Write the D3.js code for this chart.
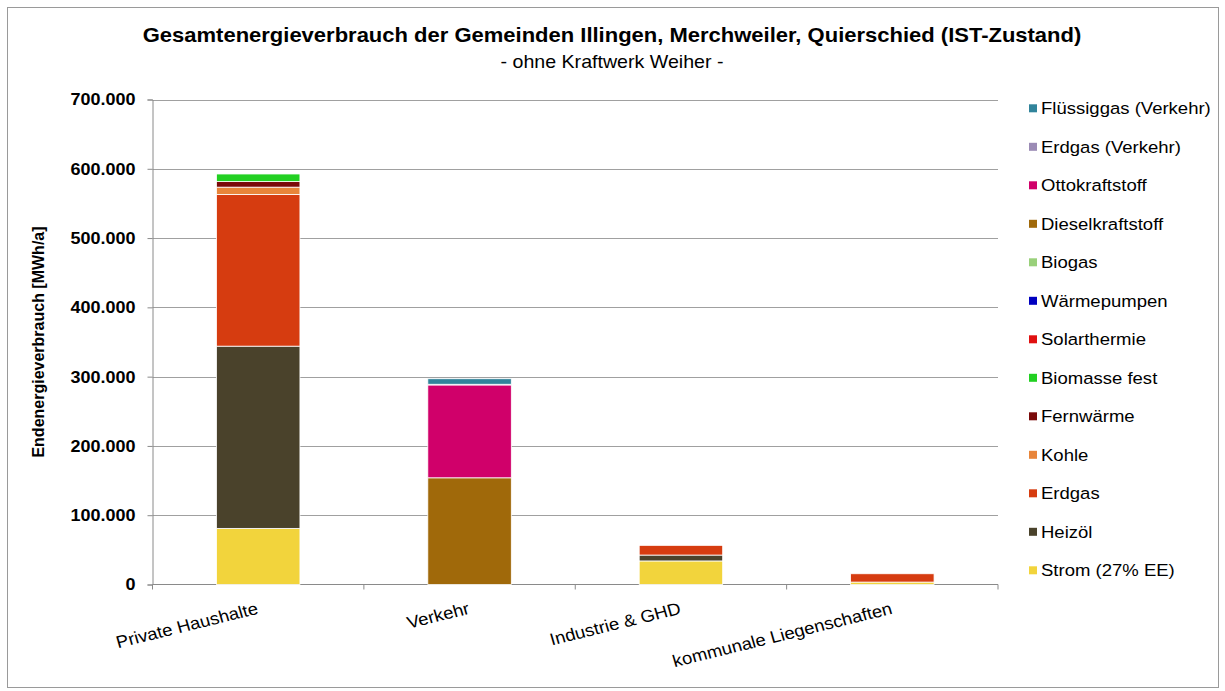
<!DOCTYPE html>
<html lang="de">
<head>
    <meta charset="UTF-8">
    <title>Gesamtenergieverbrauch</title>
    <script src="https://d3js.org/d3.v7.min.js"></script>
    <style>
        body { margin: 0; background: #fff; }
        text { font-family: Arial, "Liberation Sans", sans-serif; fill: #000; }
    </style>
</head>
<body>
<svg id="main" width="1225" height="691"></svg>
<script>
    // data (MWh/a)
    const categories = ['Private Haushalte', 'Verkehr', 'Industrie & GHD', 'kommunale Liegenschaften'];
    const seriesNames = ['Strom (27% EE)', 'Heizöl', 'Erdgas', 'Kohle', 'Fernwärme', 'Biomasse fest',
        'Solarthermie', 'Wärmepumpen', 'Biogas', 'Dieselkraftstoff', 'Ottokraftstoff',
        'Erdgas (Verkehr)', 'Flüssiggas (Verkehr)'];
    const strom        = [81000, 0, 34000, 3500];
    const heizoel      = [263000, 0, 8500, 0];
    const erdgas       = [219000, 0, 14000, 12000];
    const kohle        = [10500, 0, 0, 0];
    const fernwaerme   = [8000, 0, 0, 0];
    const biomasse     = [11000, 0, 0, 0];
    const solarthermie = [0, 0, 0, 0];
    const waermepumpen = [0, 0, 0, 0];
    const biogas       = [0, 0, 0, 0];
    const diesel       = [0, 154000, 0, 0];
    const otto         = [0, 134000, 0, 0];
    const erdgasVerk   = [0, 1000, 0, 0];
    const fluessiggas  = [0, 8000, 0, 0];
    const yTicks = [0, 100000, 200000, 300000, 400000, 500000, 600000, 700000];

    const seriesValues = [strom, heizoel, erdgas, kohle, fernwaerme, biomasse, solarthermie,
        waermepumpen, biogas, diesel, otto, erdgasVerk, fluessiggas];
    const colors = ['#f2d43c', '#4a422b', '#d63c10', '#e8853a', '#7a0a0a', '#22d022', '#e01010',
        '#0000c0', '#99d07a', '#a0690a', '#d0006a', '#9b8bb5', '#31849b'];

    let svg = d3.select('svg#main');
    // the original picture is a bit wider than tall, text looks stretched
    let sx = 1.09;

    // outer frame
    svg.append('rect')
        .attr('x', 7.5).attr('y', 7.5).attr('width', 1211).attr('height', 680)
        .attr('fill', 'none').attr('stroke', '#9a9a9a');

    let plot = {left: 152.5, right: 998, top: 99.5, bottom: 584.5};

    // table for d3.stack
    let table = categories.map(function (c, i) {
        let row = {cat: c};
        seriesNames.forEach(function (s, j) { row[s] = seriesValues[j][i]; });
        return row;
    });
    let stacked = d3.stack().keys(seriesNames)(table);

    let xScale = d3.scaleBand()
        .domain(categories)
        .range([plot.left, plot.right])
        .paddingInner(0.605)
        .paddingOuter(0.3025);
    let yScale = d3.scaleLinear()
        .domain([0, 700000])
        .range([plot.bottom, plot.top]);

    let de = d3.formatLocale({decimal: ',', thousands: '.', grouping: [3], currency: ['', '€']});
    let fmt = de.format(',d');

    // gridlines
    svg.append('g')
        .selectAll('line')
        .data(yTicks.slice(1))
        .enter()
        .append('line')
        .attr('x1', plot.left).attr('x2', plot.right)
        .attr('y1', function (d) { return Math.round(yScale(d)) + 0.5; })
        .attr('y2', function (d) { return Math.round(yScale(d)) + 0.5; })
        .attr('stroke', '#a0a0a0');

    // y axis
    let yAxis = svg.append('g')
        .attr('transform', 'translate(' + plot.left + ',0)')
        .call(d3.axisLeft(yScale).tickValues(yTicks).tickFormat(fmt).tickSize(5).tickPadding(12));
    yAxis.select('.domain').attr('stroke', '#8a8a8a');
    yAxis.selectAll('.tick line').attr('stroke', '#8a8a8a');
    yAxis.selectAll('.tick text')
        .attr('font-size', 17).attr('font-weight', 'bold')
        .style('font-family', 'Arial, "Liberation Sans", sans-serif').attr('fill', '#111')
        .attr('x', -16)
        .attr('transform', 'scale(1.06,1)');

    // x axis baseline and ticks at band borders
    let step = xScale.step();
    let borders = d3.range(categories.length + 1).map(function (i) { return plot.left + i * step; });
    svg.append('line')
        .attr('x1', plot.left).attr('x2', plot.right)
        .attr('y1', plot.bottom).attr('y2', plot.bottom)
        .attr('stroke', '#8a8a8a');
    svg.append('g').selectAll('line')
        .data(borders)
        .enter()
        .append('line')
        .attr('x1', function (d) { return d; }).attr('x2', function (d) { return d; })
        .attr('y1', plot.bottom).attr('y2', plot.bottom + 5)
        .attr('stroke', '#8a8a8a');

    // stacked bars
    let groups = svg.append('g').selectAll('g')
        .data(stacked)
        .enter()
        .append('g')
        .attr('fill', function (d, i) { return colors[i]; });
    groups.selectAll('rect')
        .data(function (d) { return d.filter(function (p) { return p[1] > p[0]; }); })
        .enter()
        .append('rect')
        .attr('x', function (d) { return xScale(d.data.cat); })
        .attr('width', xScale.bandwidth())
        .attr('y', function (d) { return yScale(d[1]); })
        .attr('height', function (d) { return yScale(d[0]) - yScale(d[1]); })
        .attr('stroke', '#fff')
        .attr('stroke-width', 0.8);

    // category labels, rotated
    svg.append('g').selectAll('text')
        .data(categories)
        .enter()
        .append('text')
        .attr('transform', function (d) {
            return 'translate(' + (xScale(d) + xScale.bandwidth() / 2 + 1) + ',' + (plot.bottom + 29) + ') scale(' + sx + ',1) rotate(-15)';
        })
        .attr('text-anchor', 'end')
        .attr('font-size', 17)
        .attr('fill', '#111')
        .text(function (d) { return d; });

    // y axis title
    svg.append('text')
        .attr('transform', 'translate(44,' + ((plot.top + plot.bottom) / 2) + ') rotate(-90)')
        .attr('text-anchor', 'middle')
        .attr('font-size', 16)
        .attr('font-weight', 'bold')
        .attr('fill', '#111')
        .text('Endenergieverbrauch [MWh/a]');

    // titles
    svg.append('text')
        .attr('transform', 'translate(612,42) scale(1.1,1)')
        .attr('text-anchor', 'middle')
        .attr('font-size', 20).attr('font-weight', 'bold')
        .attr('fill', '#111')
        .text('Gesamtenergieverbrauch der Gemeinden Illingen, Merchweiler, Quierschied (IST-Zustand)');
    svg.append('text')
        .attr('transform', 'translate(612,68) scale(' + sx + ',1)')
        .attr('text-anchor', 'middle')
        .attr('font-size', 18)
        .attr('fill', '#111')
        .text('- ohne Kraftwerk Weiher -');

    // legend, top entry is the top series
    let legendItems = seriesNames.map(function (s, i) { return {name: s, color: colors[i]}; }).reverse();
    let legend = svg.append('g').selectAll('g')
        .data(legendItems)
        .enter()
        .append('g')
        .attr('transform', function (d, i) { return 'translate(1029,' + (108.3 + i * 38.5) + ')'; });
    legend.append('rect')
        .attr('x', 0).attr('y', -4).attr('width', 8).attr('height', 8)
        .attr('fill', function (d) { return d.color; });
    legend.append('text')
        .attr('transform', 'translate(12,6) scale(' + sx + ',1)')
        .attr('font-size', 17)
        .attr('fill', '#111')
        .text(function (d) { return d.name; });
</script>
</body>
</html>
